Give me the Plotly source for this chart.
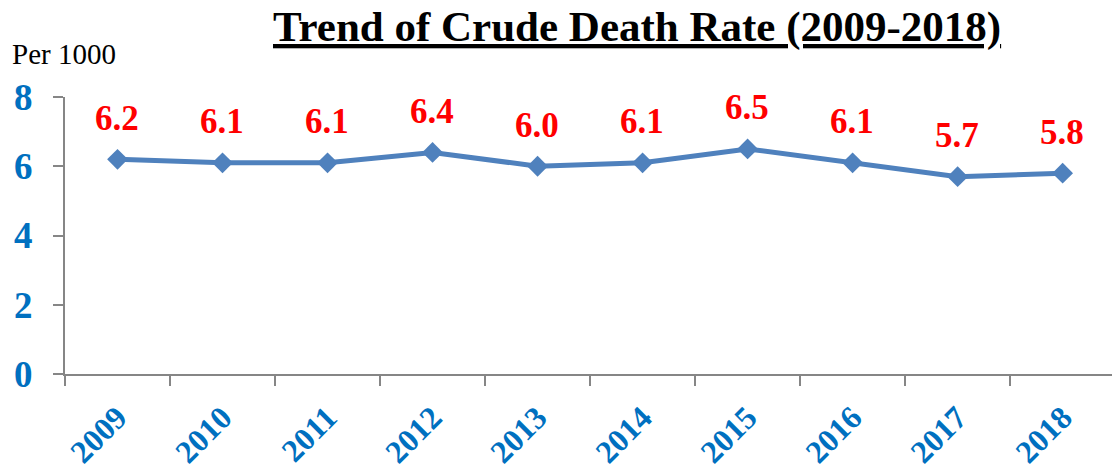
import plotly.graph_objects as go

years = ["2009", "2010", "2011", "2012", "2013", "2014", "2015", "2016", "2017", "2018"]
rates = [6.2, 6.1, 6.1, 6.4, 6.0, 6.1, 6.5, 6.1, 5.7, 5.8]
y_ticks = [0, 2, 4, 6, 8]

W, H = 1112, 474
serif = "Liberation Serif, Times New Roman, serif"
blue_txt = "#0070C0"
line_col = "#4F81BD"
axis_col = "#868686"

fig = go.Figure()
fig.add_trace(go.Scatter(
    x=years, y=rates, mode="lines+markers",
    line=dict(color=line_col, width=5),
    marker=dict(symbol="diamond", size=16, color=line_col),
    hoverinfo="x+y", showlegend=False,
))

for i, v in enumerate(rates):
    fig.add_annotation(x=i, y=v, text=f"<b>{v:.1f}</b>", showarrow=False,
                       yshift=41, xshift=-1,
                       font=dict(family=serif, size=35, color="#FF0000"))

fig.add_annotation(xref="paper", yref="paper", x=(637 - 65) / (W - 65), y=1 + (97 - 27) / 277,
                   text="<u><b>Trend of Crude Death Rate (2009-2018)</b></u>",
                   showarrow=False, xanchor="center", yanchor="middle",
                   font=dict(family=serif, size=43, color="#000000"))
fig.add_annotation(xref="paper", yref="paper", x=-(65 - 10) / (W - 65), y=1 + (97 - 54) / 277,
                   text="Per 1000", showarrow=False, xanchor="left", yanchor="middle",
                   font=dict(family=serif, size=29, color="#000000"))

fig.update_xaxes(
    type="category", range=[-0.5, 9.47], tickson="boundaries",
    ticks="outside", ticklen=10, tickwidth=2, tickcolor=axis_col,
    showline=True, linecolor=axis_col, linewidth=2, showgrid=False,
    tickangle=-45, ticklabelstandoff=10,
    tickfont=dict(family=serif, size=32, color=blue_txt, weight="bold"),
    zeroline=False,
)
fig.update_yaxes(
    range=[0, 8], tickvals=y_ticks, ticks="outside", ticklen=10, tickwidth=2,
    tickcolor=axis_col, showline=True, linecolor=axis_col, linewidth=2,
    showgrid=False, zeroline=False, ticklabelstandoff=13,
    tickfont=dict(family=serif, size=37, color=blue_txt, weight="bold"),
)
fig.update_layout(
    width=W, height=H, margin=dict(l=65, r=0, t=97, b=100, autoexpand=False),
    plot_bgcolor="white", paper_bgcolor="white",
)
fig.write_html("out.html", config={"displayModeBar": False},
               post_script="document.body.style.margin='0';")
